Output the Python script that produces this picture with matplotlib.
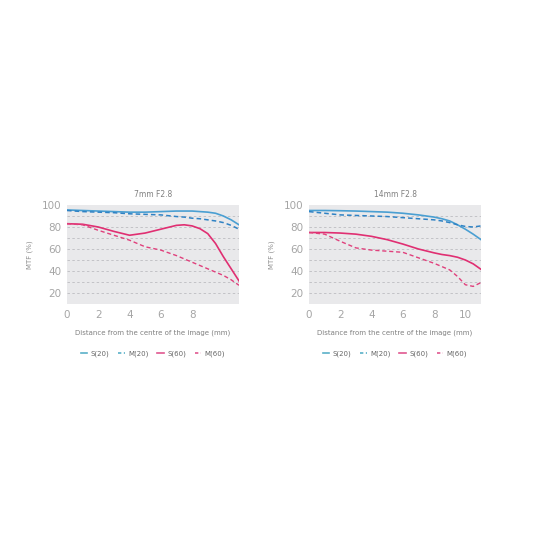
import matplotlib.pyplot as plt
from matplotlib.lines import Line2D

# 7mm F2.8
x_7 = [0, 1, 2, 3, 4, 5, 6, 7, 7.5, 8, 8.5, 9, 9.5, 10, 10.5, 11]
s20_7 = [95.5, 95, 94.5, 94, 93.5, 93.5, 94, 94.5, 94.5, 94.5, 94, 93.5, 92.5, 90, 86.5, 82]
m20_7 = [95, 94, 93.5, 93, 92, 91.5, 91, 89.5, 89, 88, 87.5, 86.5, 85.5, 84, 81.5, 78]
s60_7 = [83, 82.5, 80, 76, 72.5, 74.5, 78, 81.5, 82, 81, 78.5, 74, 65, 53, 42, 31]
m60_7 = [83, 82, 77, 72.5, 68, 62, 59, 54, 51, 48, 45, 42, 39, 36, 32, 27]

# 14mm F2.8
x_14 = [0, 1, 2, 3, 4, 5, 6, 7, 8, 8.5, 9, 9.5, 10, 10.5, 11]
s20_14 = [95, 95, 94.8, 94.5, 94, 93.5, 92.5, 91, 89, 87.5, 85.5, 82, 78, 73.5, 68.5]
m20_14 = [94, 92.5, 91, 90.5, 90, 89.5, 88.5, 87.5, 86.5, 85.5, 84, 82, 80.5, 80, 81]
s60_14 = [75, 75, 74.5, 73.5, 71.5, 68.5, 64.5, 60, 56.5, 55, 54, 52.5, 50, 46.5, 41.5]
m60_14 = [75, 73.5, 67, 61, 59, 58, 57, 52, 47, 44, 41, 35, 27.5, 26, 29.5]

titles = ["7mm F2.8", "14mm F2.8"]
xticks_list = [[0, 2, 4, 6, 8], [0, 2, 4, 6, 8, 10]]
series_names = ["S(20)", "M(20)", "S(60)", "M(60)"]

BLUE_S = "#4a9fd2"
BLUE_M = "#2f82c4"
PINK_S = "#e02f72"
PINK_M = "#e0407c"
GRAY_TXT = "#a5a5a5"


def draw(ax, xs, s20, m20, s60, m60, title, xticks):
    ax.set_facecolor("#e9e9eb")
    for v in range(20, 100, 10):
        ax.axhline(v, color="#c2c2c6", linestyle=(0, (2.5, 2.5)), linewidth=0.7, zorder=1)
    ax.plot(xs, s20, color=BLUE_S, linewidth=1.2, zorder=3)
    ax.plot(xs, m20, color=BLUE_M, linewidth=1.1, linestyle=(0, (3, 2)), zorder=3)
    ax.plot(xs, s60, color=PINK_S, linewidth=1.2, zorder=3)
    ax.plot(xs, m60, color=PINK_M, linewidth=1.0, linestyle=(0, (3, 2)), zorder=3)
    ax.set_xlim(0, 11)
    ax.set_ylim(10, 100)
    ax.set_xticks(xticks)
    ax.set_yticks([20, 40, 60, 80, 100])
    ax.tick_params(length=0, labelsize=7.5, colors=GRAY_TXT, pad=4)
    for s in ax.spines.values():
        s.set_visible(False)
    ax.set_title(title, fontsize=5.5, color="#808080", pad=6)
    ax.set_xlabel("Distance from the centre of the image (mm)", fontsize=5, color="#808080", labelpad=7)
    ax.set_ylabel("MTF (%)", fontsize=5, color="#909090", labelpad=6)

    handles = [
        Line2D([], [], color="#5ab0c8", linewidth=1.2),
        Line2D([], [], color="#5ab0c8", linewidth=1.2, linestyle=(0, (2, 1.5))),
        Line2D([], [], color="#e05890", linewidth=1.2),
        Line2D([], [], color="#e05890", linewidth=1.2, linestyle=(0, (2, 1.5))),
    ]
    leg = ax.legend(handles, series_names, loc="upper center", bbox_to_anchor=(0.5, -0.41),
                    ncol=4, frameon=False, fontsize=5, handlelength=0.9, handletextpad=0.5,
                    columnspacing=1.3)
    for t in leg.get_texts():
        t.set_color("#666666")


fig = plt.figure(figsize=(5.5, 5.5), dpi=100)
ax1 = fig.add_axes([67 / 550, 246 / 550, 172 / 550, 99 / 550])
ax2 = fig.add_axes([309 / 550, 246 / 550, 172 / 550, 99 / 550])
draw(ax1, x_7, s20_7, m20_7, s60_7, m60_7, titles[0], xticks_list[0])
draw(ax2, x_14, s20_14, m20_14, s60_14, m60_14, titles[1], xticks_list[1])
fig.savefig("out.png", dpi=100)
